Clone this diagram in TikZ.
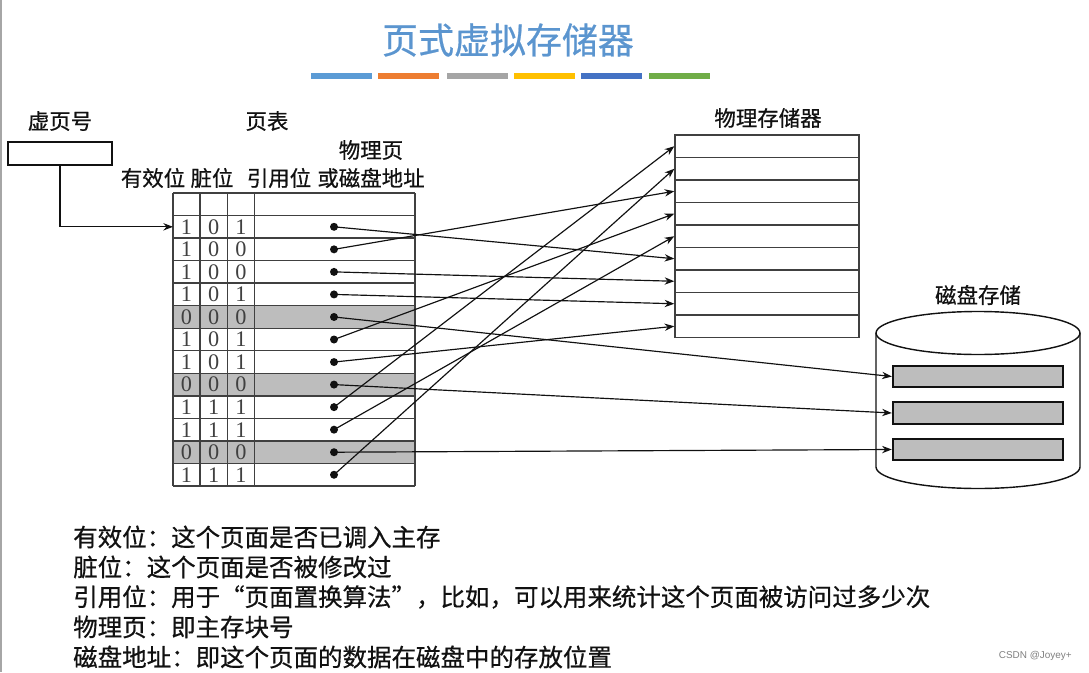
\documentclass[tikz,border=0pt]{standalone}
\usepackage{fontspec}
\setmainfont{Liberation Serif}
\newfontfamily\cjk[FakeBold=0.6]{Noto Sans CJK SC}
\newfontfamily\wmfont{Liberation Sans}
\usetikzlibrary{arrows.meta}
\definecolor{ink}{HTML}{111111}
\definecolor{grid}{HTML}{404040}
\definecolor{cellgray}{HTML}{BDBDBD}
\definecolor{ttl}{HTML}{5B95CF}
\definecolor{barA}{HTML}{5B9BD5}
\definecolor{barB}{HTML}{ED7D31}
\definecolor{barC}{HTML}{A5A5A5}
\definecolor{barD}{HTML}{FFC000}
\definecolor{barE}{HTML}{4472C4}
\definecolor{barF}{HTML}{70AD47}
\tikzset{
  ttlfont/.style={font=\cjk\fontsize{30.7pt}{34pt}\selectfont,text=ttl,inner sep=0pt},
  lbl/.style={font=\cjk\fontsize{18.3pt}{20pt}\selectfont,text=ink,inner sep=0pt},
  note/.style={font=\cjk\fontsize{20.9pt}{24pt}\selectfont,text=ink,inner sep=0pt,anchor=west},
  bit/.style={font=\fontsize{19pt}{20pt}\selectfont,text=grid,inner sep=0pt},
  pdot/.style={circle,fill=ink,inner sep=0pt,minimum size=2.4mm},
  memcell/.style={draw=grid,line width=1.2pt,minimum width=55.2mm,minimum height=6.75mm,inner sep=0pt},
  slot/.style={draw=ink,fill=cellgray,line width=1.6pt,minimum width=51mm,minimum height=6.5mm,inner sep=0pt},
  vbox/.style={draw=ink,line width=1.8pt,minimum width=31.2mm,minimum height=6.9mm,inner sep=0pt},
  link/.style={-{Stealth[length=2.9mm,width=2.2mm]},line width=1pt,ink}
}

\begin{document}
\begin{tikzpicture}[x=0.3mm,y=-0.3mm]
\useasboundingbox (0,0) rectangle (1089,672);
\draw[gray!70,line width=1.2pt] (1,0) -- (1,672);
% ================= title =================
\node[ttlfont] (title) at (508,40) {页式虚拟存储器};
\foreach \x/\c in {311/barA,378/barB,447/barC,514/barD,581/barE,649/barF}
  \fill[\c] (\x,73) rectangle ++(61,6);
% ================= virtual page number =================
\node[lbl] (vlab) at (60,121) {虚页号};
\node[vbox] (vpn) at (60,153.5) {};
% ================= page table =================
\node[lbl] (tlab) at (267,121) {页表};
\node[lbl] (hphys) at (371,150) {物理页};
\node[lbl] (hv) at (153,178) {有效位};
\node[lbl] (hd) at (212,178) {脏位};
\node[lbl] (hr) at (279,178) {引用位};
\node[lbl] (ha) at (371,178) {或磁盘地址};
\def\rh{22.54}
\foreach \i in {5,8,11}
  \fill[cellgray] (173,193+\i*\rh) rectangle (415,193+\i*\rh+\rh);
\foreach \i in {0,...,13}
  \draw[grid,line width=1.2pt] (173,193+\i*\rh) -- (415,193+\i*\rh);
\foreach \x in {173,200,227.5,254.5,415}
  \draw[grid,line width=1.2pt] (\x,193) -- (\x,486);
\foreach \i/\a/\b/\c in {1/1/0/1,2/1/0/0,3/1/0/0,4/1/0/1,5/0/0/0,6/1/0/1,
                         7/1/0/1,8/0/0/0,9/1/1/1,10/1/1/1,11/0/0/0,12/1/1/1}{
  \node[bit] at (186.5,193+\i*\rh+0.5*\rh) {\a};
  \node[bit] at (213.7,193+\i*\rh+0.5*\rh) {\b};
  \node[bit] at (241,193+\i*\rh+0.5*\rh) {\c};
  \node[pdot] (p\i) at (334,193+\i*\rh+0.5*\rh) {};
}
\coordinate (r1) at (173,193+1.5*\rh);
\draw[link] (vpn.south) |- (r1);
% ================= physical memory =================
\node[lbl] (mlab) at (768,118) {物理存储器};
\foreach \j in {1,...,9}
  \node[memcell] (m\j) at (767,135+\j*22.5-11.25) {};
% ================= disk =================
\node[lbl] (dlab) at (978,295) {磁盘存储};
\draw[ink,line width=1.2pt] (978,333) ellipse [x radius=102, y radius=21.5];
\draw[ink,line width=1.2pt] (876,333) -- (876,467)
   arc[start angle=180, end angle=0, x radius=102, y radius=21.5] -- (1080,333);
\foreach \k/\y in {1/376.5,2/413,3/449.5}
  \node[slot] (s\k) at (977.7,\y) {};
% ================= mappings =================
\foreach \s/\t in {1/6,2/3,3/7,4/8,6/4,7/9,9/1,10/5,12/2}
  \draw[link] (p\s.center) -- (m\t.west);
\foreach \s/\t in {5/1,8/2,11/3}
  \draw[link] (p\s.center) -- (s\t.west);
% ================= notes =================
\node[note] (n1) at (73,537) {有效位：这个页面是否已调入主存};
\node[note] (n2) at (73,567) {脏位：这个页面是否被修改过};
\node[note] (n3) at (73,597) {引用位：用于“页面置换算法”，比如，可以用来统计这个页面被访问过多少次};
\node[note] (n4) at (73,627) {物理页：即主存块号};
\node[note] (n5) at (73,657) {磁盘地址：即这个页面的数据在磁盘中的存放位置};
\node[font=\wmfont\fontsize{8.5pt}{10pt}\selectfont,text=gray,inner sep=0pt,anchor=east] (wm) at (1072,656) {CSDN @Joyey+};
\end{tikzpicture}
\end{document}
